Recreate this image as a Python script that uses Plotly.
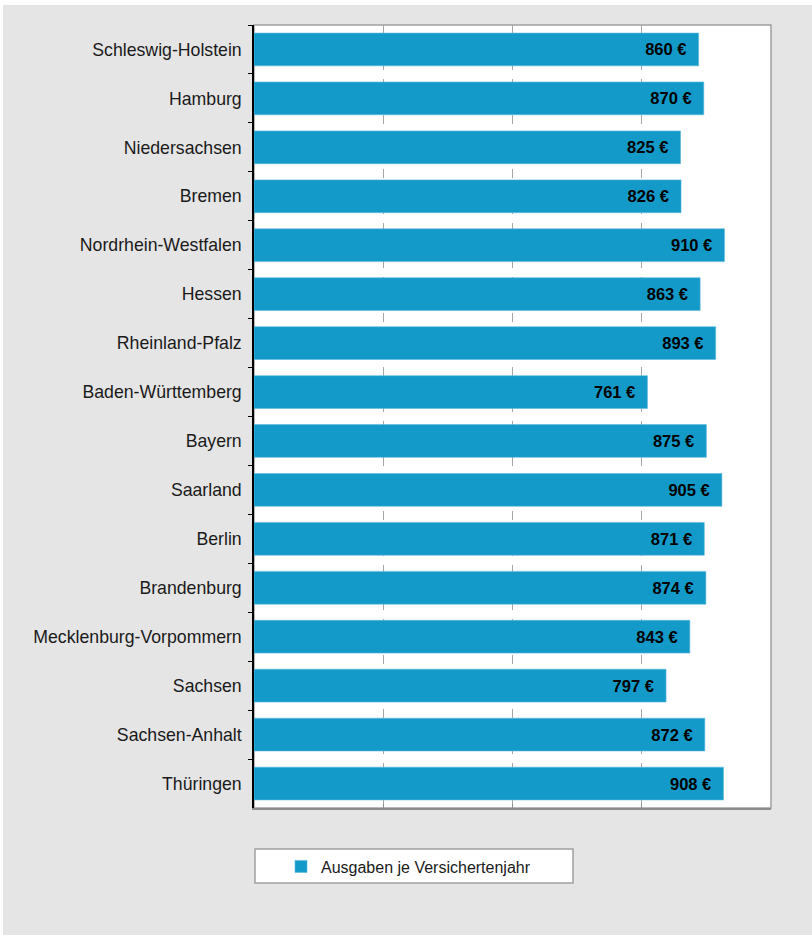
import plotly.graph_objects as go

# ---- data ----
laender = [
    "Schleswig-Holstein", "Hamburg", "Niedersachsen", "Bremen",
    "Nordrhein-Westfalen", "Hessen", "Rheinland-Pfalz", "Baden-Württemberg",
    "Bayern", "Saarland", "Berlin", "Brandenburg",
    "Mecklenburg-Vorpommern", "Sachsen", "Sachsen-Anhalt", "Thüringen",
]
ausgaben = [860, 870, 825, 826, 910, 863, 893, 761,
            875, 905, 871, 874, 843, 797, 872, 908]
series_name = "Ausgaben je Versichertenjahr"
grid_vals = [250, 500, 750]

# ---- layout constants (pixels) ----
W, H = 812, 935
L, R, T, B = 254, 41, 25, 127
PW, PH = W - L - R, H - T - B


def px_x(p):
    return (p - L) / PW


def px_y(p):
    return (H - B - p) / PH


FONT = "Liberation Sans, Arial, sans-serif"
BAR = "#149ac9"
BG = "#e5e5e5"

fig = go.Figure()
fig.add_trace(go.Bar(
    y=laender,
    x=ausgaben,
    orientation="h",
    name=series_name,
    marker=dict(color=BAR, line=dict(color="#5cb9dc", width=0.6)),
    text=[f"{v}\u00a0€\u00a0\u00a0" for v in ausgaben],
    texttemplate="%{text}",
    textposition="inside",
    insidetextanchor="end",
    textangle=0,
    textfont=dict(family=FONT, size=16.5, color="black", weight="bold"),
    constraintext="none",
    hoverinfo="x+y",
))

shapes = [
    # white strips at top / left edge of the page
    dict(type="rect", xref="paper", yref="paper",
         x0=px_x(0), x1=px_x(W), y0=px_y(5), y1=px_y(0),
         fillcolor="white", line=dict(width=0), layer="below"),
    dict(type="rect", xref="paper", yref="paper",
         x0=px_x(0), x1=px_x(3), y0=px_y(H), y1=px_y(0),
         fillcolor="white", line=dict(width=0), layer="below"),
    # plot frame
    dict(type="rect", xref="paper", yref="paper", x0=0, x1=1, y0=0, y1=1,
         line=dict(color="#a0a0a0", width=1.5), fillcolor="rgba(0,0,0,0)",
         layer="below"),
    # legend box
    dict(type="rect", xref="paper", yref="paper",
         x0=px_x(255), x1=px_x(573), y0=px_y(883), y1=px_y(849),
         fillcolor="white", line=dict(color="#a0a0a0", width=1.5),
         layer="below"),
]

fig.update_layout(
    width=W, height=H,
    margin=dict(l=L, r=R, t=T, b=B, pad=0),
    paper_bgcolor=BG,
    plot_bgcolor="white",
    font=dict(family=FONT, size=16, color="#1a1a1a"),
    bargap=0.33,
    showlegend=True,
    legend=dict(
        x=px_x(321 - 40), xanchor="left",
        y=px_y(866.5), yanchor="middle",
        bgcolor="rgba(0,0,0,0)", borderwidth=0,
        font=dict(family=FONT, size=16, color="#1a1a1a"),
        itemwidth=30,
    ),
    shapes=shapes,
    xaxis=dict(
        range=[0, 1000],
        tickvals=grid_vals,
        showticklabels=False,
        showgrid=True, gridcolor="#a6a6a6", griddash="dash", gridwidth=1,
        zeroline=False,
        showline=True, linecolor="#8c8c8c", linewidth=1.5,
        ticks="inside", ticklen=4, tickcolor="#8c8c8c",
        fixedrange=True,
    ),
    yaxis=dict(
        type="category",
        autorange="reversed",
        showgrid=False,
        showline=True, linecolor="black", linewidth=1.5,
        ticks="outside", ticklen=4, tickcolor="black", tickson="boundaries",
        tickfont=dict(family=FONT, size=17.7, color="#1a1a1a"),
        ticklabelstandoff=7,
        fixedrange=True,
    ),
)

fig.write_html(
    "out.html",
    config=dict(displayModeBar=False),
    post_script="document.body.style.margin='0';document.body.style.padding='0';",
)
